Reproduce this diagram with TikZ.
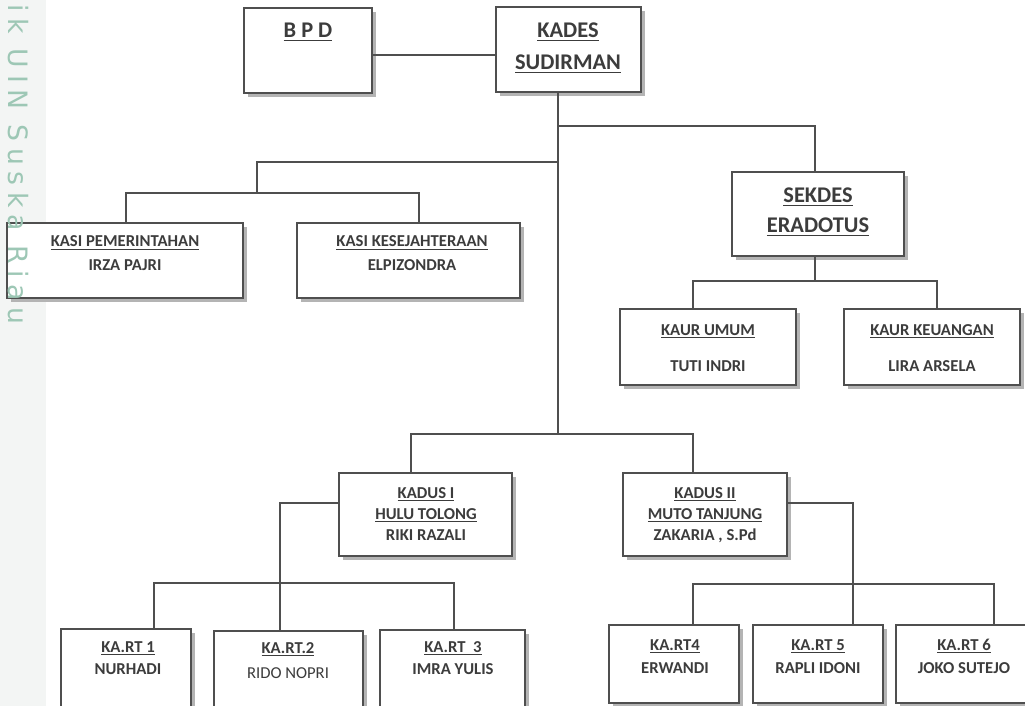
\documentclass[tikz,border=0pt]{standalone}
\usepackage{fontspec}
\setmainfont{Carlito}
\newfontfamily\wmfont[LetterSpace=25]{DejaVu Sans}
\usetikzlibrary{fit,shadows}
\definecolor{ln}{HTML}{4F4F4F}
\definecolor{tx}{HTML}{3C3C3C}
\definecolor{sh}{HTML}{B4B4B4}
\definecolor{wm}{HTML}{9DC7B5}
\definecolor{strip}{HTML}{F3F5F4}
\begin{document}
\begin{tikzpicture}[x=0.75pt,y=-0.75pt,
  orgbox/.style={draw=ln, line width=1pt, fill=white, inner sep=0pt,
    drop shadow={shadow xshift=3.2pt, shadow yshift=-3.2pt, fill=sh, opacity=1}},
  conn/.style={draw=ln, line width=1pt},
  big/.style={font=\bfseries\fontsize{16.8}{20}\selectfont, text=tx, anchor=base, inner sep=0pt},
  sml/.style={font=\bfseries\fontsize{12.5}{14}\selectfont, text=tx, anchor=base, inner sep=0pt},
  reg/.style={font=\fontsize{12.5}{14}\selectfont, text=tx, anchor=base, inner sep=0pt}]
\clip (0,0) rectangle (1025,706);
\fill[white] (0,0) rectangle (1025,706);
\fill[strip] (0,0) rectangle (46,706);

% boxes
\node[orgbox, fit={(244,8) (372,93)}] (bpd) {};
\node[orgbox, fit={(496,7) (641,92)}] (kades) {};
\node[orgbox, fit={(7,223) (243,298)}] (kasi1) {};
\node[orgbox, fit={(297,223) (520,298)}] (kasi2) {};
\node[orgbox, fit={(732,172) (904,256)}] (sekdes) {};
\node[orgbox, fit={(620,309) (796,385)}] (kaur1) {};
\node[orgbox, fit={(844,309) (1020,385)}] (kaur2) {};
\node[orgbox, fit={(339,473) (512,556)}] (kadus1) {};
\node[orgbox, fit={(623,473) (787,556)}] (kadus2) {};
\node[orgbox, fit={(61,629) (191,715)}] (rt1) {};
\node[orgbox, fit={(214,631) (363,715)}] (rt2) {};
\node[orgbox, fit={(380,630) (525,715)}] (rt3) {};
\node[orgbox, fit={(609,625) (739,703)}] (rt4) {};
\node[orgbox, fit={(753,625) (883,703)}] (rt5) {};
\node[orgbox, fit={(896,625) (1035,703)}] (rt6) {};

% junction coordinates
\coordinate (yb) at (0,55);
\coordinate (k1) at (558,126);
\coordinate (k2) at (558,162);
\coordinate (k3) at (558,434);
\coordinate (s1) at (815,126);
\coordinate (s2) at (815,281);
\coordinate (a1) at (257,162);
\coordinate (a2) at (257,193);
\coordinate (a3) at (126,193);
\coordinate (a4) at (419,193);
\coordinate (b1) at (693,281);
\coordinate (b2) at (937,281);
\coordinate (d1) at (411,434);
\coordinate (d2) at (693,434);
\coordinate (e1) at (280,503);
\coordinate (e2) at (154,583);
\coordinate (e3) at (454,583);
\coordinate (f1) at (853,503);
\coordinate (f2) at (693,584);
\coordinate (f3) at (994,584);

% connectors
\draw[conn] (bpd.east |- yb) -- (kades.west |- yb);
\draw[conn] (kades.south -| k1) -- (k3);
\draw[conn] (k1) -- (s1) -- (s1 |- sekdes.north);
\draw[conn] (k2) -- (a1) -- (a2);
\draw[conn] (a3 |- kasi1.north) -- (a3) -- (a4) -- (a4 |- kasi2.north);
\draw[conn] (sekdes.south -| s2) -- (s2);
\draw[conn] (b1 |- kaur1.north) -- (b1) -- (b2) -- (b2 |- kaur2.north);
\draw[conn] (d1 |- kadus1.north) -- (d1) -- (d2) -- (d2 |- kadus2.north);
\draw[conn] (kadus1.west |- e1) -- (e1) -- (e1 |- rt2.north);
\draw[conn] (e2 |- rt1.north) -- (e2) -- (e3) -- (e3 |- rt3.north);
\draw[conn] (kadus2.east |- f1) -- (f1) -- (f1 |- rt5.north);
\draw[conn] (f2 |- rt4.north) -- (f2) -- (f3) -- (f3 |- rt6.north);

% texts
\node[big] (bpdT) at (308,38) {\underline{B P D}};
\node[big] (kadesT) at (568,38) {\underline{KADES}};
\node[big] (kadesN) at (568,70) {\underline{SUDIRMAN}};
\node[sml] (kasi1T) at (125,247) {\underline{KASI PEMERINTAHAN}};
\node[sml] (kasi1N) at (125,270) {IRZA PAJRI};
\node[sml] (kasi2T) at (412,247) {\underline{KASI KESEJAHTERAAN}};
\node[sml] (kasi2N) at (412,270) {ELPIZONDRA};
\node[big] (sekdesT) at (818,203) {\underline{SEKDES}};
\node[big] (sekdesN) at (818,233) {\underline{ERADOTUS}};
\node[sml] (kaur1T) at (708,335) {\underline{KAUR UMUM}};
\node[sml] (kaur1N) at (708,371) {TUTI INDRI};
\node[sml] (kaur2T) at (932,335) {\underline{KAUR KEUANGAN}};
\node[sml] (kaur2N) at (932,371) {LIRA ARSELA};
\node[sml] (kadus1T) at (426,498) {\underline{KADUS I}};
\node[sml] (kadus1D) at (426,519) {\underline{HULU TOLONG}};
\node[sml] (kadus1N) at (426,540) {RIKI RAZALI};
\node[sml] (kadus2T) at (705,498) {\underline{KADUS II}};
\node[sml] (kadus2D) at (705,519) {\underline{MUTO TANJUNG}};
\node[sml] (kadus2N) at (705,540) {ZAKARIA , S.Pd};
\node[sml] (rt1T) at (128,652) {\underline{KA.RT 1}};
\node[sml] (rt1N) at (128,674) {NURHADI};
\node[sml] (rt2T) at (288,653) {\underline{KA.RT.2}};
\node[reg] (rt2N) at (288,678) {RIDO NOPRI};
\node[sml] (rt3T) at (453,652) {\underline{KA.RT\ \ 3}};
\node[sml] (rt3N) at (453,674) {IMRA YULIS};
\node[sml] (rt4T) at (675,650) {\underline{KA.RT4}};
\node[sml] (rt4N) at (675,673) {ERWANDI};
\node[sml] (rt5T) at (818,650) {\underline{KA.RT 5}};
\node[sml] (rt5N) at (818,673) {RAPLI IDONI};
\node[sml] (rt6T) at (964,650) {\underline{KA.RT 6}};
\node[sml] (rt6N) at (964,673) {JOKO SUTEJO};

% side watermark, over the boxes
\node[rotate=-90, anchor=west, text=wm, inner sep=0pt,
  font=\wmfont\fontsize{20}{21}\selectfont] (wmark) at (18,4) {ik UIN Suska Riau};
\end{tikzpicture}
\end{document}
